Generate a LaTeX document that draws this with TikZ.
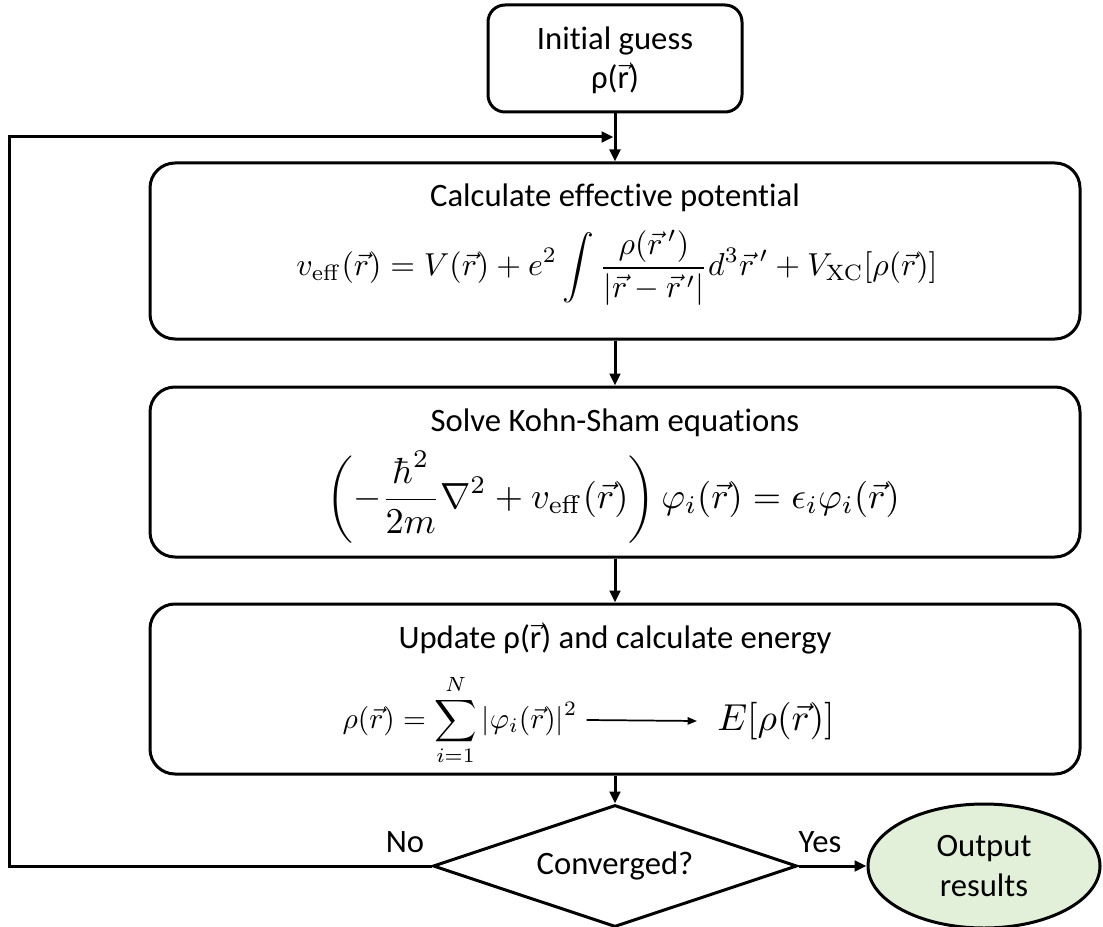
\documentclass[tikz,border=0pt]{standalone}
\usepackage{amsmath}
\usepackage[no-math]{fontspec}
\setmainfont[Ligatures=CommonOff]{Carlito}
\usepackage{graphicx}
\usetikzlibrary{shapes.geometric,arrows.meta}
\definecolor{outgreen}{HTML}{E2F0D9}
\newcommand{\tvr}{\ensuremath{\vec{\mbox{r}}}}
\tikzset{
  px/.style={x=0.75pt,y=-0.75pt},
  bigbox/.style={draw, line width=2.25pt, rounded corners=18.75pt, minimum width=697.5pt, inner sep=0pt},
  arr/.style={line width=2.25pt, -{Triangle[length=9pt,width=8pt]}},
  lab/.style={font=\fontsize{24.5}{29.5}\selectfont, inner sep=0pt, align=center},
  eqn/.style={inner sep=0pt}
}
\begin{document}
\begin{tikzpicture}[px]
\useasboundingbox (0,0) rectangle (1103,927);
% initial guess
\node[draw, line width=2.25pt, rounded corners=12.75pt, minimum width=190.5pt, minimum height=80.25pt, inner sep=0pt] (init) at (615,58.5) {};
\node[lab] (initt) at (615,60) {Initial guess\\ρ(\tvr)};
% box 2
\node[bigbox, minimum height=132pt] (b2) at (615,251) {};
\node[lab, anchor=base] (t2) at (615,207) {Calculate effective potential};
\node[eqn] (e2) at (617,268) {\resizebox{480.75pt}{!}{$\displaystyle v_{\mathrm{eff}}(\vec{r}) = V(\vec{r}) + e^2\int\frac{\rho(\vec{r}\,')}{|\vec{r}-\vec{r}\,'|}d^3\vec{r}\,' + V_{\mathrm{XC}}[\rho(\vec{r})]$}};
% box 3
\node[bigbox, minimum height=127.5pt] (b3) at (615,472) {};
\node[lab, anchor=base] (t3) at (615,431) {Solve Kohn-Sham equations};
\node[eqn] (e3) at (613,497) {\resizebox{430pt}{!}{$\displaystyle \left(-\frac{\hbar^2}{2m}\nabla^2 + v_{\mathrm{eff}}(\vec{r})\right)\varphi_i(\vec{r}) = \epsilon_i\varphi_i(\vec{r})$}};
% box 4
\node[bigbox, minimum height=127.5pt] (b4) at (615,689) {};
\node[lab, anchor=base] (t4) at (615,648) {Update ρ(\tvr) and calculate energy};
\node[eqn] (e4a) at (460,720) {\resizebox{176pt}{!}{$\displaystyle \rho(\vec{r}) = \sum_{i=1}^{N}|\varphi_i(\vec{r})|^2$}};
\node[eqn] (e4b) at (776,721) {\resizebox{88pt}{!}{$E[\rho(\vec{r})]$}};
\draw[line width=1.3pt, -{Triangle[length=7pt,width=5.5pt]}] (e4a.east) ++(9,0) coordinate (a4s) -- (e4b.west -| 697,0) coordinate (a4e);
% decision
\node[diamond, draw, line width=2.25pt, minimum width=273pt, minimum height=91.5pt, aspect=3, inner sep=0pt] (dec) at (615,866) {};
\node[lab] (dect) at (615,866) {Converged?};
% output
\node[ellipse, draw, line width=2.25pt, fill=outgreen, minimum width=174pt, minimum height=93pt, inner sep=0pt] (out) at (984,866) {};
\node[lab] (outt) at (984,866) {Output\\results};
% labels
\node[lab] (no) at (405,842) {No};
\node[lab] (yes) at (820,842) {Yes};
% connectors
\coordinate (join) at (615,137);
\coordinate (corner) at (9,137);
\draw[arr] (init.south) -- (b2.north);
\draw[arr] (b2.south) -- (b3.north);
\draw[arr] (b3.south) -- (b4.north);
\draw[arr] (b4.south) -- (dec.north);
\draw[arr] (dec.east) -- (out.west);
\draw[arr] (dec.west) -| (corner) -- ([xshift=-1.1pt]join);
\end{tikzpicture}
\end{document}
